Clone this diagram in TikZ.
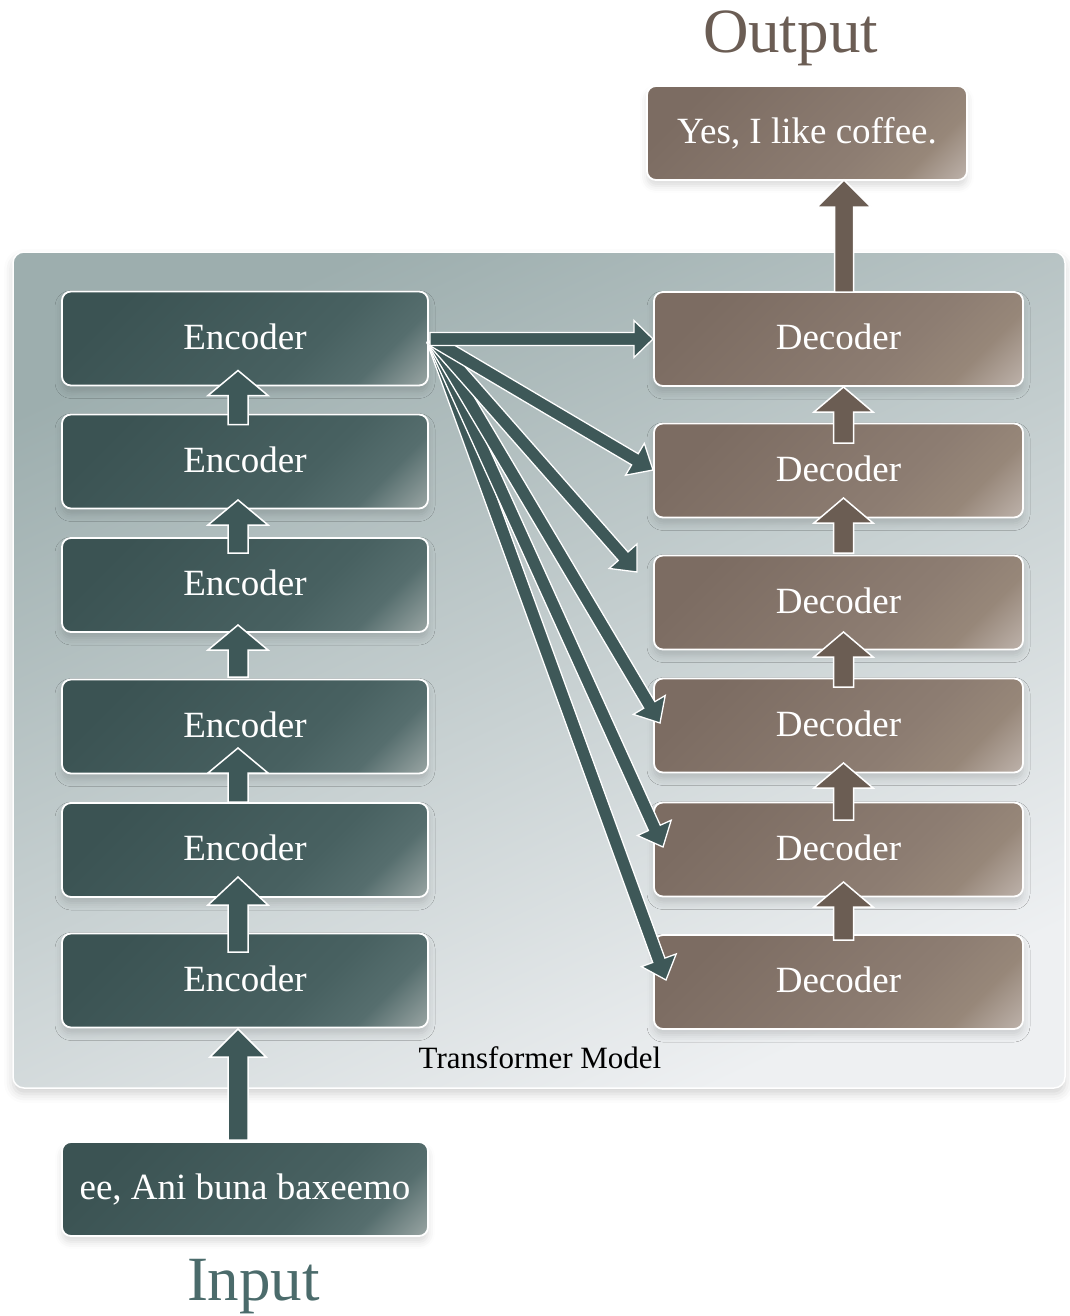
\documentclass[tikz,border=0pt]{standalone}
\usepackage{fontspec}
\setmainfont{Liberation Serif}
\usetikzlibrary{calc,shadows.blur}

% palette
\definecolor{encA}{HTML}{3B5353}
\definecolor{encB}{HTML}{486161}
\definecolor{encC}{HTML}{566E6E}
\definecolor{encD}{HTML}{A9B2B0}
\definecolor{decA}{HTML}{7C6C62}
\definecolor{decB}{HTML}{8D7D72}
\definecolor{decC}{HTML}{978779}
\definecolor{decD}{HTML}{C6BCB6}
\definecolor{encArrow}{HTML}{3E5858}
\definecolor{decArrow}{HTML}{6B5D53}
\definecolor{panelTop}{HTML}{9DAEAE}
\definecolor{panelMid}{HTML}{D4DADC}
\definecolor{panelBot}{HTML}{EEF0F2}
\definecolor{outText}{HTML}{6B5D54}
\definecolor{inText}{HTML}{4B6B6B}

% glossy fills for the blocks
\pgfdeclarehorizontalshading{encshade}{100bp}{color(0bp)=(encA); color(25bp)=(encA); color(62bp)=(encB); color(74bp)=(encC); color(88bp)=(encD); color(100bp)=(encD)}
\pgfdeclarehorizontalshading{decshade}{100bp}{color(0bp)=(decA); color(25bp)=(decA); color(62bp)=(decB); color(74bp)=(decC); color(88bp)=(decD); color(100bp)=(decD)}

% block arrow: [style]{from}{to}{shaft half width}{head half width}{head length}
\newcommand{\blockarrow}[6][]{%
  \coordinate (bahead) at ($(#3)!#6!(#2)$);
  \filldraw[#1] ($(#2)!#4!90:(#3)$) -- ($(bahead)!#4!90:(#3)$) -- ($(bahead)!#5!90:(#3)$)
     -- (#3) -- ($(bahead)!#5!-90:(#3)$) -- ($(bahead)!#4!-90:(#3)$) -- ($(#2)!#4!-90:(#3)$) -- cycle;}

\begin{document}
\begin{tikzpicture}[x=1pt,y=-1pt,
  boxbase/.style={rounded corners=9pt, minimum height=94pt, inner sep=0pt, outer sep=0pt,
    draw=white, line width=1.8pt, text=white, font=\fontsize{37}{40}\selectfont,
    text height=21pt, text depth=0pt,
    blur shadow={shadow xshift=0pt, shadow yshift=-6pt, shadow blur radius=7pt, shadow opacity=14}},
  enc/.style={boxbase, minimum width=366pt, shading=encshade, shading angle=-45},
  dec/.style={boxbase, minimum width=369pt, shading=decshade, shading angle=-45},
  panelbox/.style={rounded corners=11pt, minimum width=1052pt, minimum height=836pt,
    draw=white, line width=1.5pt, top color=panelTop, middle color=panelMid, bottom color=panelBot,
    shading angle=25,
    blur shadow={shadow xshift=0pt, shadow yshift=-6pt, shadow blur radius=9pt, shadow opacity=18}},
  encarrow/.style={fill=encArrow, draw=white, line width=1.5pt, line join=miter},
  decarrow/.style={fill=decArrow, draw=white, line width=1.5pt, line join=miter},
  fanarrow/.style={fill=encArrow, draw=white, line width=1.3pt, line join=miter},
]
\useasboundingbox (0,0) rectangle (1069,1316);

% model frame
\node[panelbox] (panel) at (539,670) {};
\node[anchor=base, font=\fontsize{31}{34}\selectfont] (title) at (540,1068) {Transformer Model};

% encoder stack
\node[enc] (e1) at (245,338.5) {Encoder};
\node[enc] (e2) at (245,461.5) {Encoder};
\node[enc] (e3) at (245,585) {Encoder};
\node[enc] (e4) at (245,726.5) {Encoder};
\node[enc] (e5) at (245,850) {Encoder};
\node[enc] (e6) at (245,980.5) {Encoder};
\node[enc] (in) at (245,1189) {ee, Ani buna baxeemo};

% decoder stack
\node[dec] (d1) at (838.5,339) {Decoder};
\node[dec] (d2) at (838.5,470.5) {Decoder};
\node[dec] (d3) at (838.5,602.5) {Decoder};
\node[dec] (d4) at (838.5,725.5) {Decoder};
\node[dec] (d5) at (838.5,849.5) {Decoder};
\node[dec] (d6) at (838.5,982) {Decoder};
\node[dec, minimum width=320pt] (out) at (807,133) {Yes, I like coffee.};

% captions
\node[anchor=base, text=outText, font=\fontsize{63}{66}\selectfont] (outlbl) at (790.5,53) {Output};
\node[anchor=base, text=inText, font=\fontsize{63}{66}\selectfont] (inlbl) at (253.5,1300) {Input};

% encoder chain
\coordinate (ea1s) at ($(e2.north)+(-7,10)$);   \coordinate (ea1t) at ($(e1.south)+(-7,-15)$);
\coordinate (ea2s) at ($(e3.north)+(-7,15)$);   \coordinate (ea2t) at ($(e2.south)+(-7,-8.5)$);
\coordinate (ea3s) at ($(e4.north)+(-7,-2.5)$); \coordinate (ea3t) at ($(e3.south)+(-7,-7)$);
\coordinate (ea4s) at ($(e5.north)+(-7,-1)$);   \coordinate (ea4t) at ($(e4.south)+(-7,-25.5)$);
\coordinate (ea5s) at ($(e6.north)+(-7,18.5)$); \coordinate (ea5t) at ($(e5.south)+(-7,-20)$);
\coordinate (ea6s) at ($(in.north)+(-7,-2)$);   \coordinate (ea6t) at ($(e6.south)+(-7,1.5)$);
\blockarrow[encarrow]{ea1s}{ea1t}{10pt}{30pt}{25pt}
\blockarrow[encarrow]{ea2s}{ea2t}{10pt}{30pt}{25pt}
\blockarrow[encarrow]{ea3s}{ea3t}{10pt}{30pt}{25pt}
\blockarrow[encarrow]{ea4s}{ea4t}{10pt}{30pt}{25pt}
\blockarrow[encarrow]{ea5s}{ea5t}{10pt}{30pt}{28pt}
\blockarrow[encarrow]{ea6s}{ea6t}{10pt}{28pt}{28pt}

% decoder chain
\coordinate (da1s) at ($(d2.north)+(5,19.5)$);   \coordinate (da1t) at ($(d1.south)+(5,1)$);
\coordinate (da2s) at ($(d3.north)+(5,-2.5)$);   \coordinate (da2t) at ($(d2.south)+(5,-19.5)$);
\coordinate (da3s) at ($(d4.north)+(5,8.5)$);    \coordinate (da3t) at ($(d3.south)+(5,-17.5)$);
\coordinate (da4s) at ($(d5.north)+(5,17.5)$);   \coordinate (da4t) at ($(d4.south)+(5,-9.5)$);
\coordinate (da5s) at ($(d6.north)+(5,5)$);      \coordinate (da5t) at ($(d5.south)+(5,-14.5)$);
\coordinate (da6s) at ($(d1.north)+(5.5,0)$);    \coordinate (da6t) at ($(out.south)+(37,0)$);
\blockarrow[decarrow]{da1s}{da1t}{10pt}{29.5pt}{25pt}
\blockarrow[decarrow]{da2s}{da2t}{10pt}{29.5pt}{25pt}
\blockarrow[decarrow]{da3s}{da3t}{10pt}{29.5pt}{25pt}
\blockarrow[decarrow]{da4s}{da4t}{10pt}{29.5pt}{25pt}
\blockarrow[decarrow]{da5s}{da5t}{10pt}{29.5pt}{25pt}
\blockarrow[decarrow]{da6s}{da6t}{9.5pt}{27pt}{27pt}

% encoder output fanned out to every decoder
\coordinate (fan) at ($(e1.east)+(5,1.5)$);
\coordinate (fanh) at ($(e1.east)+(2,0.5)$);
\coordinate (f1) at ($(d1.west)+(-1,0)$);
\coordinate (f2) at ($(d2.west)+(-1,-0.5)$);
\coordinate (f3) at ($(d3.west)+(-17,-30.5)$);
\coordinate (f4) at ($(d4.west)+(6,-2.5)$);
\coordinate (f5) at ($(d5.west)+(9,-2.5)$);
\coordinate (f6) at ($(d6.west)+(12,-2)$);
\blockarrow[fanarrow]{fan}{f6}{6.5pt}{18.5pt}{21pt}
\blockarrow[fanarrow]{fan}{f5}{6.5pt}{18.5pt}{21pt}
\blockarrow[fanarrow]{fan}{f4}{6.5pt}{18.5pt}{21pt}
\blockarrow[fanarrow]{fan}{f3}{6.5pt}{18.5pt}{21pt}
\blockarrow[fanarrow]{fan}{f2}{6.5pt}{18.5pt}{21pt}
\blockarrow[fanarrow]{fanh}{f1}{6.5pt}{18.5pt}{19pt}
\end{tikzpicture}
\end{document}
